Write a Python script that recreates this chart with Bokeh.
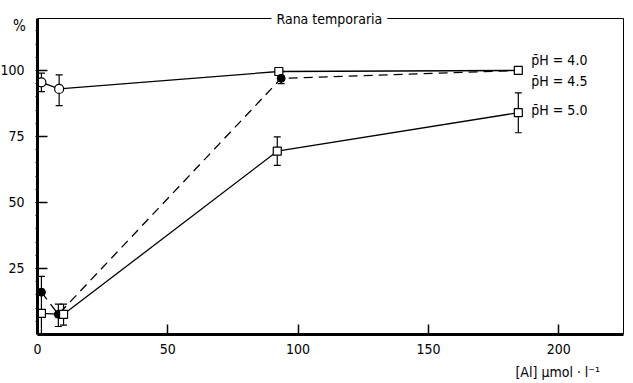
from bokeh.plotting import figure
from bokeh.models import (ColumnDataSource, Whisker, TeeHead, Label, FixedTicker,
                          Range1d, LinearAxis)
from bokeh.embed import file_html
from bokeh.resources import INLINE

FONT = "DejaVu Sans Condensed"
FS = "14px"

title_text = "Rana temporaria"
x_label = "[Al] µmol · l⁻¹"
y_label = "%"
x_ticks = [0, 50, 100, 150, 200]
y_ticks = [25, 50, 75, 100]
x_max = 225
y_max = 119.5

# pH 4.0 (solid, open markers)
ph40_x = [1.5, 8.3, 92.6, 184.5]
ph40_y = [95.5, 93.0, 99.6, 100.0]
ph40_err_x = [1.5, 8.3]
ph40_lo = [92.0, 86.7]
ph40_hi = [99.0, 98.3]

# pH 4.5 (dashed, filled circles)
ph45_x = [1.5, 8.0, 93.5, 184.5]
ph45_y = [16.0, 7.6, 97.0, 100.0]
ph45_err_x = [8.0, 93.5]
ph45_lo = [3.0, 95.0]
ph45_hi = [11.5, 99.5]

# pH 5.0 (solid, open squares)
ph50_x = [1.5, 10.0, 92.0, 184.5]
ph50_y = [8.0, 7.6, 69.4, 84.0]
ph50_err_x = [1.5, 10.0, 92.0, 184.5]
ph50_lo = [0.0, 3.5, 64.0, 76.4]
ph50_hi = [22.0, 11.5, 74.8, 91.5]

legend_labels = ["p̄H = 4.0", "p̄H = 4.5", "p̄H = 5.0"]
legend_y = [104, 96, 85]

p = figure(width=633, height=383, output_backend="svg", toolbar_location=None,
           x_range=Range1d(-14.2, 228.7), y_range=Range1d(-18.6, 126.5),
           x_axis_location=None, y_axis_location=None,
           min_border=0)
p.grid.visible = False
p.background_fill_color = "white"
p.border_fill_color = "white"
p.outline_line_color = None

def style_axis(ax, ticks, minor, width):
    ax.ticker = FixedTicker(ticks=ticks, minor_ticks=minor)
    ax.axis_line_width = width
    ax.axis_line_color = "black"
    ax.major_tick_in = 10
    ax.major_tick_out = 0
    ax.major_tick_line_width = 1.5
    ax.major_tick_line_color = "black"
    ax.minor_tick_in = 0
    ax.minor_tick_out = 2
    ax.minor_tick_line_color = "black"
    ax.major_label_text_font = FONT
    ax.major_label_text_font_size = FS
    ax.major_label_text_color = "black"

xb = LinearAxis(fixed_location=0, bounds=(0, x_max))
style_axis(xb, x_ticks, [], 3)
xb.major_label_standoff = 10
p.add_layout(xb, "below")

yl = LinearAxis(fixed_location=0, bounds=(0, y_max))
style_axis(yl, y_ticks, list(range(5, 120, 5)), 3)
yl.major_label_standoff = 11
p.add_layout(yl, "left")

xt = LinearAxis(fixed_location=y_max, bounds=(0, x_max))
style_axis(xt, [], [], 1)
xt.major_label_text_font_size = "0px"
p.add_layout(xt, "above")

yr = LinearAxis(fixed_location=x_max, bounds=(0, y_max))
style_axis(yr, [], [], 1)
yr.major_label_text_font_size = "0px"
p.add_layout(yr, "right")

def whiskers(xs, lo, hi):
    src = ColumnDataSource(dict(x=xs, lo=lo, hi=hi))
    w = Whisker(base="x", lower="lo", upper="hi", source=src, line_width=1.2,
                level="underlay",
                upper_head=TeeHead(size=7, line_width=1.2),
                lower_head=TeeHead(size=7, line_width=1.2))
    p.add_layout(w)

whiskers(ph40_err_x, ph40_lo, ph40_hi)
whiskers(ph45_err_x, ph45_lo, ph45_hi)
whiskers(ph50_err_x, ph50_lo, ph50_hi)

p.line(ph40_x, ph40_y, line_color="black", line_width=1.3)
p.line(ph45_x, ph45_y, line_color="black", line_width=1.3, line_dash="9 6")
p.line(ph50_x, ph50_y, line_color="black", line_width=1.3)

p.scatter(ph40_x[:2], ph40_y[:2], marker="circle", size=9, fill_color="white", line_color="black", line_width=1.2)
p.scatter(ph40_x[2:], ph40_y[2:], marker="square", size=8, fill_color="white", line_color="black", line_width=1.2)
p.scatter(ph45_x[:3], ph45_y[:3], marker="circle", size=8, fill_color="black", line_color="black")
p.scatter(ph50_x, ph50_y, marker="square", size=8, fill_color="white", line_color="black", line_width=1.2)

for txt, yy in zip(legend_labels, legend_y):
    p.add_layout(Label(x=189.5, y=yy, text=txt, text_font=FONT, text_font_size=FS,
                       text_color="black", text_baseline="middle", text_align="left"))

p.add_layout(Label(x=112, y=y_max, text=title_text, text_font=FONT, text_font_size=FS,
                   text_color="black", text_baseline="middle", text_align="center",
                   background_fill_color="white", padding=5))
p.add_layout(Label(x=-6.9, y=117, text=y_label, text_font=FONT, text_font_size="15px",
                   text_color="black", text_baseline="middle", text_align="center"))
p.add_layout(Label(x=183.4, y=-14.4, text=x_label, text_font=FONT, text_font_size=FS,
                   text_color="black", text_baseline="middle", text_align="left"))

open("out.html", "w").write(file_html(p, INLINE))
